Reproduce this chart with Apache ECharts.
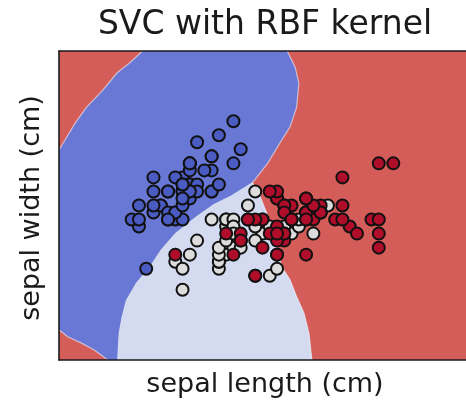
<!DOCTYPE html>
<html>
<head>
<meta charset="utf-8">
<script src="https://cdn.jsdelivr.net/npm/echarts@6/dist/echarts.min.js"></script>
<style>
html,body{margin:0;padding:0;background:#fff;}
#chart{width:466px;height:402px;}
</style>
</head>
<body>
<div id="chart"></div>
<script>
// Axis ranges (data units)
const xRange = [3.3, 8.9];
const yRange = [1.0, 5.4];

// Iris sepal length / sepal width by class
const setosa = [[5.1,3.5],[4.9,3.0],[4.7,3.2],[4.6,3.1],[5.0,3.6],[5.4,3.9],[4.6,3.4],[5.0,3.4],[4.4,2.9],[4.9,3.1],
[5.4,3.7],[4.8,3.4],[4.8,3.0],[4.3,3.0],[5.8,4.0],[5.7,4.4],[5.4,3.9],[5.1,3.5],[5.7,3.8],[5.1,3.8],
[5.4,3.4],[5.1,3.7],[4.6,3.6],[5.1,3.3],[4.8,3.4],[5.0,3.0],[5.0,3.4],[5.2,3.5],[5.2,3.4],[4.7,3.2],
[4.8,3.1],[5.4,3.4],[5.2,4.1],[5.5,4.2],[4.9,3.1],[5.0,3.2],[5.5,3.5],[4.9,3.6],[4.4,3.0],[5.1,3.4],
[5.0,3.5],[4.5,2.3],[4.4,3.2],[5.0,3.5],[5.1,3.8],[4.8,3.0],[5.1,3.8],[4.6,3.2],[5.3,3.7],[5.0,3.3]];
const versicolor = [[7.0,3.2],[6.4,3.2],[6.9,3.1],[5.5,2.3],[6.5,2.8],[5.7,2.8],[6.3,3.3],[4.9,2.4],[6.6,2.9],[5.2,2.7],
[5.0,2.0],[5.9,3.0],[6.0,2.2],[6.1,2.9],[5.6,2.9],[6.7,3.1],[5.6,3.0],[5.8,2.7],[6.2,2.2],[5.6,2.5],
[5.9,3.2],[6.1,2.8],[6.3,2.5],[6.1,2.8],[6.4,2.9],[6.6,3.0],[6.8,2.8],[6.7,3.0],[6.0,2.9],[5.7,2.6],
[5.5,2.4],[5.5,2.4],[5.8,2.7],[6.0,2.7],[5.4,3.0],[6.0,3.4],[6.7,3.1],[6.3,2.3],[5.6,3.0],[5.5,2.5],
[5.5,2.6],[6.1,3.0],[5.8,2.6],[5.0,2.3],[5.6,2.7],[5.7,3.0],[5.7,2.9],[6.2,2.9],[5.1,2.5],[5.7,2.8]];
const virginica = [[6.3,3.3],[5.8,2.7],[7.1,3.0],[6.3,2.9],[6.5,3.0],[7.6,3.0],[4.9,2.5],[7.3,2.9],[6.7,2.5],[7.2,3.6],
[6.5,3.2],[6.4,2.7],[6.8,3.0],[5.7,2.5],[5.8,2.8],[6.4,3.2],[6.5,3.0],[7.7,3.8],[7.7,2.6],[6.0,2.2],
[6.9,3.2],[5.6,2.8],[7.7,2.8],[6.3,2.7],[6.7,3.3],[7.2,3.2],[6.2,2.8],[6.1,3.0],[6.4,2.8],[7.2,3.0],
[7.4,2.8],[7.9,3.8],[6.4,2.8],[6.3,2.8],[6.1,2.6],[7.7,3.0],[6.3,3.4],[6.4,3.1],[6.0,3.0],[6.9,3.1],
[6.7,3.1],[6.9,3.1],[5.8,2.7],[6.8,3.2],[6.7,3.3],[6.7,3.0],[6.3,2.5],[6.5,3.0],[6.2,3.4],[5.9,3.0]];

// Decision boundaries (data units)
const boundTopLeft = [[3.30,3.99],[3.38,4.13],[3.52,4.37],[3.68,4.60],[3.90,4.84],[4.10,5.09],[4.27,5.23],[4.45,5.40]];
const boundBlueRed = [[6.44,5.40],[6.55,5.17],[6.60,4.94],[6.57,4.60],[6.48,4.32],[6.34,4.09],[6.17,3.80],[5.99,3.56],[5.96,3.53]];
const boundLightRed = [[5.96,3.53],[6.06,3.35],[6.17,3.06],[6.26,2.78],[6.32,2.49],[6.37,2.32],[6.48,2.14],[6.57,1.90],[6.67,1.67],[6.74,1.38],[6.78,1.00]];
const boundBlueLight = [[4.10,1.00],[4.12,1.38],[4.16,1.61],[4.22,1.85],[4.36,2.10],[4.54,2.32],[4.70,2.57],[4.90,2.81],[5.18,3.04],[5.43,3.22],[5.66,3.34],[5.96,3.53]];
const boundBottomLeft = [[3.97,1.00],[3.92,1.04],[3.79,1.14],[3.61,1.24],[3.42,1.33],[3.30,1.43]];

const blueRegion = [].concat(boundTopLeft, boundBlueRed, boundLightRed.slice(1), boundBottomLeft);
const lightRegion = [].concat(boundLightRed, boundBlueLight.slice(0, boundBlueLight.length - 1));
const redEdges = [boundTopLeft, boundBlueRed, boundLightRed, boundBottomLeft];

// Styles
const redFill = '#d45c59';
const blueFill = '#6878d4';
const lightFill = '#d4dbf0';
const setosaColor = '#4a5bc2';
const versicolorColor = '#dcdcdc';
const virginicaColor = '#b00d2a';
const font = '"DejaVu Sans", sans-serif';

function polygonSeries(points, color, z) {
  return {
    type: 'custom', z: z, silent: true, animation: false,
    data: [[xRange[0], yRange[0]]],
    renderItem: function (params, api) {
      return { type: 'polygon', shape: { points: points.map(p => api.coord(p)) }, style: { fill: color } };
    }
  };
}
function edgeSeries(lines, z) {
  return {
    type: 'custom', z: z, silent: true, animation: false,
    data: [[xRange[0], yRange[0]]],
    renderItem: function (params, api) {
      return {
        type: 'group',
        children: lines.map(l => ({ type: 'polyline', shape: { points: l.map(p => api.coord(p)) },
          style: { stroke: 'rgba(255,255,255,0.55)', lineWidth: 1.2, fill: null } }))
      };
    }
  };
}
function scatterSeries(data, color) {
  return {
    type: 'scatter', data: data, symbolSize: 12, z: 5, silent: true, animation: false,
    itemStyle: { color: color, borderColor: '#111', borderWidth: 2, opacity: 1 },
    emphasis: { disabled: true }
  };
}
const axisCommon = {
  type: 'value', axisTick: { show: false }, axisLabel: { show: false }, splitLine: { show: false },
  axisLine: { show: true, onZero: false, lineStyle: { color: '#1a1a1a', width: 1.6 } }, z: 10
};

const chart = echarts.init(document.getElementById('chart'), null, { renderer: 'canvas' });
chart.setOption({
  animation: false,
  backgroundColor: '#ffffff',
  grid: { left: 59, top: 51, width: 412, height: 309, show: true, backgroundColor: redFill, borderWidth: 0 },
  xAxis: [
    Object.assign({}, axisCommon, { min: xRange[0], max: xRange[1], position: 'bottom' }),
    Object.assign({}, axisCommon, { min: xRange[0], max: xRange[1], position: 'top' })
  ],
  yAxis: [
    Object.assign({}, axisCommon, { min: yRange[0], max: yRange[1], position: 'left' })
  ],
  graphic: [
    { type: 'text', x: 265, y: 25, style: { text: 'SVC with RBF kernel', font: '33px ' + font, fill: '#1a1a1a', align: 'center', verticalAlign: 'middle' } },
    { type: 'text', x: 265, y: 385, style: { text: 'sepal length (cm)', font: '27px ' + font, fill: '#1a1a1a', align: 'center', verticalAlign: 'middle' } },
    { type: 'text', x: 32, y: 208, rotation: Math.PI / 2, style: { text: 'sepal width (cm)', font: '27px ' + font, fill: '#1a1a1a', align: 'center', verticalAlign: 'middle' } }
  ],
  series: [
    polygonSeries(blueRegion, blueFill, 1),
    polygonSeries(lightRegion, lightFill, 2),
    edgeSeries(redEdges, 3),
    scatterSeries(setosa, setosaColor),
    scatterSeries(versicolor, versicolorColor),
    scatterSeries(virginica, virginicaColor)
  ]
});
</script>
</body>
</html>
